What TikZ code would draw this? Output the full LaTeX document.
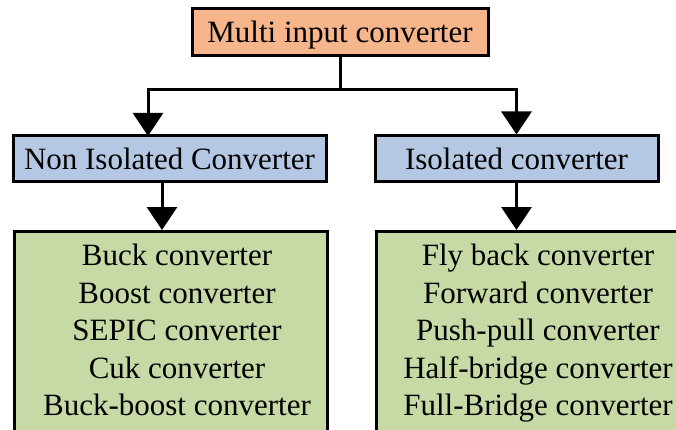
\documentclass[tikz,border=0pt]{standalone}
\usepackage{fontspec}
\setmainfont{Liberation Serif}
\usetikzlibrary{arrows.meta}
\definecolor{topfill}{HTML}{F6B58A}
\definecolor{typefill}{HTML}{B5C8E3}
\definecolor{listfill}{HTML}{C7DAA5}
\begin{document}
\begin{tikzpicture}[x=1pt,y=-1pt,
  bigfont/.style={font=\fontsize{31}{37.5}\selectfont},
  box/.style={draw=black, line width=3pt, inner sep=0pt, bigfont,
              text height=20.5pt, text depth=0pt},
  listbox/.style={draw=black, line width=3pt, inner sep=0pt, fill=listfill},
  listtext/.style={bigfont, align=center, inner sep=0pt, anchor=north},
  conn/.style={line width=3pt},
  arr/.style={conn, -{Triangle[length=23pt,width=30pt]}}]
\useasboundingbox (0,0) rectangle (676,430);

% top level
\node[box, fill=topfill, minimum width=296pt, minimum height=47pt] (top) at (340,32.5) {Multi input converter};

% two families
\node[box, fill=typefill, minimum width=313pt, minimum height=46pt] (non) at (169.5,159) {Non Isolated Converter};
\node[box, fill=typefill, minimum width=283pt, minimum height=46pt] (iso) at (516.5,159) {Isolated converter};

% topology lists
\node[listbox, minimum width=313pt, minimum height=215pt, anchor=north west] (nonlist) at (13,230) {};
\node[listbox, minimum width=326pt, minimum height=215pt, anchor=north west] (isolist) at (375,230) {};
\node[listtext] (nontext) at (177,243.8) {Buck converter\\Boost converter\\SEPIC converter\\Cuk converter\\Buck-boost converter};
\node[listtext] (isotext) at (538,243.8) {Fly back converter\\Forward converter\\Push-pull converter\\Half-bridge converter\\Full-Bridge converter};

% connectors
\coordinate (split) at (top.south |- 0,90);
\coordinate (nonin) at (148,136);
\coordinate (nonout) at (162,182);
\coordinate (nonlistin) at (162,230);
\draw[conn] (top.south) -- (split);
\draw[arr] (split) -| (nonin);
\draw[arr] (split) -| (iso.north);
\draw[arr] (nonout) -- (nonlistin);
\draw[arr] (iso.south) -- (iso.south |- isolist.north);
\end{tikzpicture}
\end{document}
